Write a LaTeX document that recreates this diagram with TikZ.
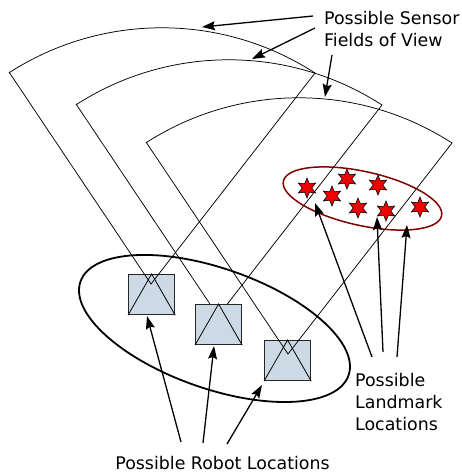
\documentclass[tikz,border=0pt]{standalone}
\usepackage{fontspec}
\setmainfont{DejaVu Sans}
\usetikzlibrary{shapes.geometric,arrows.meta}
\definecolor{boxfill}{RGB}{205,218,230}
\definecolor{starred}{RGB}{245,0,0}
\definecolor{lmkring}{RGB}{128,0,0}
\begin{document}
\begin{tikzpicture}[x=1pt,y=-1pt,
  fov/.style={line width=0.75pt},
  lbl/.style={font=\fontsize{17.4}{22}\selectfont, inner sep=0pt, align=left},
  ptr/.style={line width=1.3pt, -{Stealth[length=13pt,width=9pt,inset=2pt]}},
  robotbox/.style={draw=black!85, line width=1.2pt, fill=boxfill, minimum width=46pt, minimum height=40pt, inner sep=0pt, anchor=north west},
  icon/.style={line width=0.8pt},
  lmk/.style={star, star points=6, star point ratio=2.1, minimum size=20pt, inner sep=0pt, fill=starred, draw=black, line width=0.6pt}]
\useasboundingbox (0,0) rectangle (462,475);

% robot boxes under their fields of view (1 and 3)
\node[robotbox] (box1) at (128,274) {};
\draw[icon] (box1.south west) -- (box1.north) -- (box1.south east);
\node[robotbox] (box3) at (264,340) {};
\draw[icon] (box3.south west) -- (box3.north) -- (box3.south east);

% sensor fields of view
\foreach \n/\ax/\ay in {1/151/284, 2/218/316, 3/288/354} {
  \coordinate (A\n) at (\ax,\ay);
  \coordinate (L\n) at (\ax-142,\ay-212);
  \coordinate (R\n) at (\ax+164,\ay-211);
  \draw[fov] (L\n) -- (A\n) -- (R\n) arc[start angle=-57.1, end angle=-122.8, radius=282];
}

% robot box 2 over its field of view
\node[robotbox] (box2) at (195,304) {};
\draw[icon] (box2.south west) -- (box2.north) -- (box2.south east);

% ellipses
\coordinate (rc) at (214.5,328.5);
\draw[line width=1.8pt, rotate around={-19.3:(rc)}] (rc) ellipse[x radius=142, y radius=60];
\coordinate (lc) at (362.5,198.5);
\draw[line width=1.5pt, draw=lmkring, rotate around={-12.4:(lc)}] (lc) ellipse[x radius=81, y radius=27];

% landmarks
\node[lmk] (s1) at (307,188) {};
\node[lmk] (s2) at (347,179) {};
\node[lmk] (s3) at (378,185) {};
\node[lmk] (s4) at (332,196) {};
\node[lmk] (s5) at (358,208) {};
\node[lmk] (s6) at (386,211) {};
\node[lmk] (s7) at (420,207) {};

% labels
\node[lbl, anchor=north west] (sensorlbl) at (324,11) {Possible Sensor\\Fields of View};
\node[lbl, anchor=north west] (lmklbl) at (355,373) {Possible\\Landmark\\Locations};
\node[lbl, anchor=base] (robotlbl) at (222.5,469) {Possible Robot Locations};

% sensor arrows
\coordinate (st1) at (313,16);  \coordinate (sh1) at (202,27);
\coordinate (st2) at (315,28);  \coordinate (sh2) at (252,59);
\coordinate (st3) at (332,55);  \coordinate (sh3) at (325,97);
\draw[ptr] (st1) -- (sh1);
\draw[ptr] (st2) -- (sh2);
\draw[ptr] (st3) -- (sh3);

% landmark arrows
\coordinate (lt1) at (372,357); \coordinate (lh1) at (315,203);
\coordinate (lt2) at (383,352); \coordinate (lh2) at (377,217);
\coordinate (lt3) at (397,357); \coordinate (lh3) at (407,225);
\draw[ptr] (lt1) -- (lh1);
\draw[ptr] (lt2) -- (lh2);
\draw[ptr] (lt3) -- (lh3);

% robot arrows
\coordinate (rt1) at (181,442); \coordinate (rh1) at (147,316);
\coordinate (rt2) at (203,443); \coordinate (rh2) at (214,346);
\coordinate (rt3) at (227,444); \coordinate (rh3) at (262,385);
\draw[ptr] (rt1) -- (rh1);
\draw[ptr] (rt2) -- (rh2);
\draw[ptr] (rt3) -- (rh3);
\end{tikzpicture}
\end{document}
